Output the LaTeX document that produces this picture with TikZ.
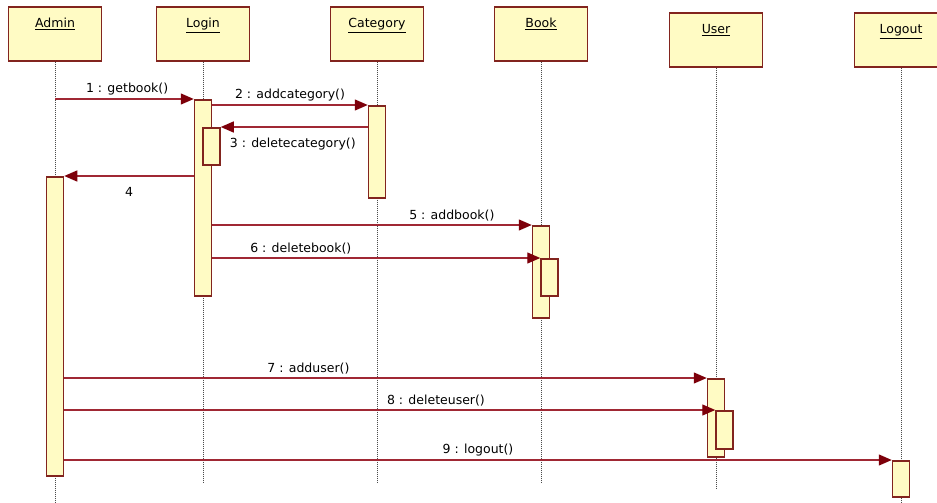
\documentclass[tikz,border=0pt]{standalone}
\usepackage{fontspec}
\setmainfont{DejaVu Sans}
\usetikzlibrary{arrows.meta}
\definecolor{boxfill}{RGB}{255,251,196}
\definecolor{boxline}{RGB}{130,36,30}
\definecolor{msgline}{RGB}{160,40,52}
\definecolor{msghead}{RGB}{125,0,10}
\begin{document}
\begin{tikzpicture}[x=1pt, y=-1pt,
  headbox/.style={draw=boxline, fill=boxfill, line width=1.6pt, minimum width=93pt,
    inner xsep=0pt, inner ysep=0pt, text height=21pt, text depth=33pt, font=\fontsize{12.5}{14}\selectfont},
  actbox/.style={draw=boxline, fill=boxfill, line width=1.5pt, minimum width=17pt,
    inner sep=0pt, anchor=north, minimum height=#1},
  lifeline/.style={gray!60!black, line width=0.6pt, dash pattern=on 1pt off 1pt},
  msg/.style={draw=msgline, line width=1.3pt, -{Triangle[length=13pt, width=11pt, fill=msghead, color=msghead]}},
  msgtext/.style={font=\fontsize{12.5}{14}\selectfont, inner sep=1pt}]
  \useasboundingbox (0,0) rectangle (937,503);
  % Objekte
  \node[headbox, anchor=north] (admin) at (55,6) {\underline{Admin}};
  \node[headbox, anchor=north] (login) at (203,6) {\underline{Login}};
  \node[headbox, anchor=north] (category) at (377,6) {\underline{Category}};
  \node[headbox, anchor=north] (book) at (541,6) {\underline{Book}};
  \node[headbox, anchor=north] (user) at (716,12) {\underline{User}};
  \node[headbox, anchor=north] (logout) at (901,12) {\underline{Logout}};
  % Lebenslinien
  \coordinate (adminEnd) at (55,503);
  \coordinate (loginEnd) at (203,483);
  \coordinate (categoryEnd) at (377,483);
  \coordinate (bookEnd) at (541,483);
  \coordinate (userEnd) at (716,488);
  \coordinate (logoutEnd) at (901,503);
  \draw[lifeline] (admin.south) -- (adminEnd);
  \draw[lifeline] (login.south) -- (loginEnd);
  \draw[lifeline] (category.south) -- (categoryEnd);
  \draw[lifeline] (book.south) -- (bookEnd);
  \draw[lifeline] (user.south) -- (userEnd);
  \draw[lifeline] (logout.south) -- (logoutEnd);
  % Aktivierungen
  \node[actbox=299pt] (actAdmin) at (55,176) {};
  \node[actbox=196pt] (actLogin) at (203,99) {};
  \node[actbox=37pt] (actLoginB) at (211.5,127) {};
  \node[actbox=92pt] (actCategory) at (377,105) {};
  \node[actbox=92pt] (actBook) at (541,225) {};
  \node[actbox=37pt] (actBookB) at (549.5,258) {};
  \node[actbox=78pt] (actUser) at (716,378) {};
  \node[actbox=38pt] (actUserB) at (724.5,410) {};
  \node[actbox=36pt] (actLogout) at (901,460) {};
  % Nachrichten
  \coordinate (adminMsg) at (55,99);
  \draw[msg] (adminMsg) -- node[msgtext, above=2pt, pos=0.52] (m1) {1 : getbook()} (actLogin.north west);
  \draw[msg] (actLogin.east |- actCategory.north) -- node[msgtext, above=2pt] (m2) {2 : addcategory()} (actCategory.north west);
  \draw[msg] (actCategory.west |- actLoginB.north) -- node[msgtext, below=9pt, pos=0.51] (m3) {3 : deletecategory()} (actLoginB.north east);
  \draw[msg] (actLogin.west |- actAdmin.north) -- node[msgtext, below=10pt] (m4) {4} (actAdmin.north east);
  \draw[msg] (actLogin.east |- actBook.north) -- node[msgtext, above=2pt, pos=0.75] (m5) {5 : addbook()} (actBook.north west);
  \draw[msg] (actLogin.east |- actBookB.north) -- node[msgtext, above=2pt, pos=0.27] (m6) {6 : deletebook()} (actBookB.north west);
  \draw[msg] (actAdmin.east |- actUser.north) -- node[msgtext, above=2pt, pos=0.38] (m7) {7 : adduser()} (actUser.north west);
  \draw[msg] (actAdmin.east |- actUserB.north) -- node[msgtext, above=2pt, pos=0.571] (m8) {8 : deleteuser()} (actUserB.north west);
  \draw[msg] (actAdmin.east |- actLogout.north) -- node[msgtext, above=2pt, pos=0.5] (m9) {9 : logout()} (actLogout.north west);
\end{tikzpicture}
\end{document}
